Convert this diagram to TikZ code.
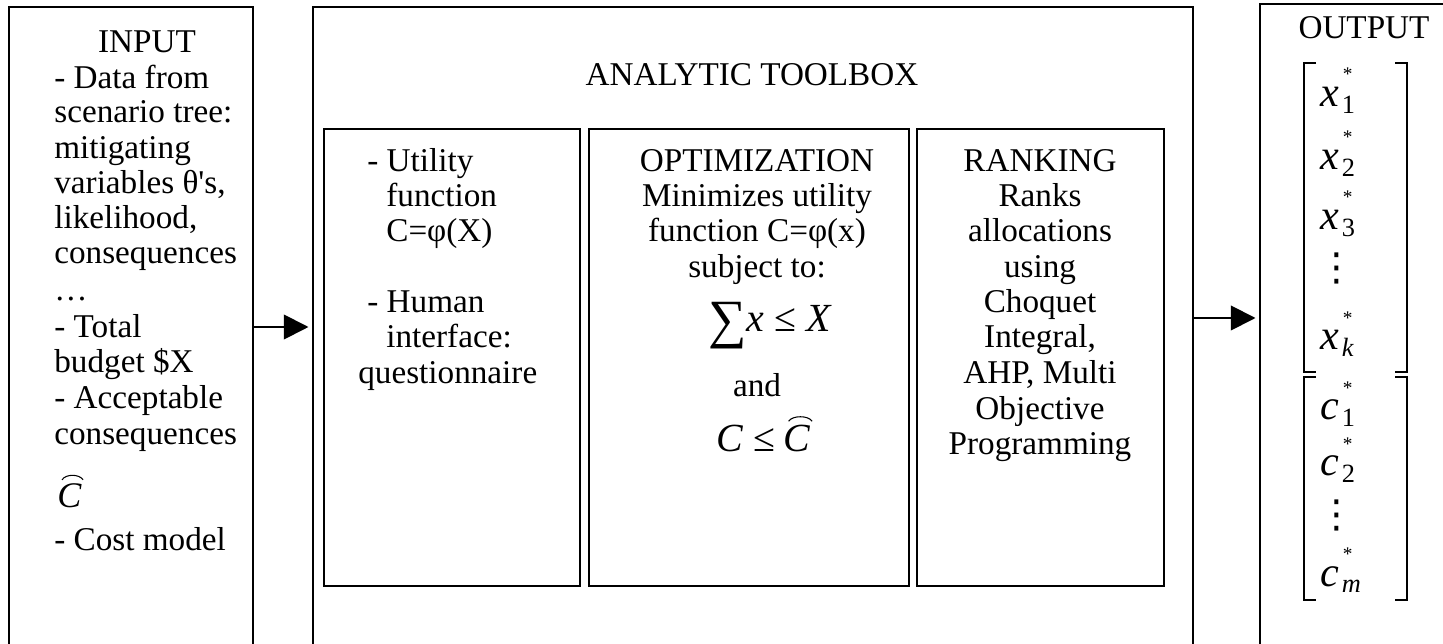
\documentclass[tikz,border=0pt]{standalone}
\usepackage{fontspec}
\setmainfont{Liberation Serif}[Ligatures=TeXOff]
\newfontfamily\dotsfont{DejaVu Sans}
\usepackage{graphicx}
\usetikzlibrary{arrows.meta,calc}

% font sizes (1 unit of the picture = 0.02cm)
\newcommand\bodyfont{\fontsize{18.9pt}{20.1pt}\selectfont}
\newcommand\eqfont{\fontsize{22.7pt}{24pt}\selectfont}
\newcommand\hatCfont{\fontsize{20.5pt}{22pt}\selectfont}
\newcommand\vecfont{\fontsize{24pt}{26pt}\selectfont}
\newcommand\starfont{\fontsize{11pt}{11pt}\selectfont}
\newcommand\subfont{\fontsize{15pt}{16pt}\selectfont}

\tikzset{
  outerbox/.style={draw, line width=1.3pt, inner sep=0pt, anchor=north west, minimum height=13.9cm},
  innerbox/.style={draw, line width=1.1pt, inner sep=0pt, anchor=north west, minimum height=9.14cm},
  txt/.style={font=\bodyfont, inner sep=0pt},
  eq/.style={font=\eqfont, inner sep=0pt},
  vec/.style={font=\vecfont, inner sep=0pt, anchor=base west},
  starlbl/.style={font=\starfont, inner sep=0pt, anchor=north west},
  sublbl/.style={font=\subfont, inner sep=0pt, anchor=base west},
  vdot/.style={font=\dotsfont\fontsize{22pt}{24pt}\selectfont, inner sep=0pt},
  brk/.style={line width=0.8pt},
  hatarc/.style={line width=0.6pt},
  arr/.style={line width=1.1pt, -{Triangle[length=14pt,width=14pt]}, shorten >=2pt},
}

\begin{document}
\begin{tikzpicture}[x=0.02cm,y=-0.02cm]
\useasboundingbox (0,0) rectangle (1443,644);
\clip (0,0) rectangle (1443,644);

% ---- frames
\node[outerbox, minimum width=4.88cm] (inbox) at (8,6) {};
\node[outerbox, minimum width=17.6cm] (tbox) at (312,6) {};
\node[outerbox, minimum width=4.6cm] (outbox) at (1259,3) {};
\node[innerbox, minimum width=5.12cm] (ubox) at (323,128) {};
\node[innerbox, minimum width=6.4cm] (obox) at (588,128) {};
\node[innerbox, minimum width=4.94cm] (rbox) at (916,128) {};

% ---- input column
\node[txt, anchor=base] (inhead) at (147,53) {INPUT};
\foreach \yy/\words [count=\i] in {89/{- Data from},123/{scenario tree:},159/{mitigating},194/{variables θ's,},229/{likelihood,},264/{consequences},301/{…},338/{- Total},373/{budget \$X},409/{- Acceptable},445/{consequences},551/{- Cost model}}
  \node[txt, anchor=base west] (in\i) at (54,\yy) {\words};
\node[inner sep=0pt, font=\hatCfont, anchor=base west] (inC) at (57,508) {\textit{C}};
\draw[hatarc] ($(inC.north west)+(5,-4)$) .. controls ($(inC.north west)+(9,-10)$) and ($(inC.north east)+(-3,-10)$) .. ($(inC.north east)+(1,-4)$);

% ---- toolbox title
\node[txt, anchor=base] (thead) at (752,86) {ANALYTIC TOOLBOX};

% ---- utility box
\foreach \xx/\yy/\words [count=\i] in {367/172/{- Utility},386/207/{function},386/242/{C=φ(X)},367/313/{- Human},386/348/{interface:},358/384/{questionnaire}}
  \node[txt, anchor=base west] (u\i) at (\xx,\yy) {\words};

% ---- optimization box
\foreach \yy/\words [count=\i] in {172/{OPTIMIZATION},207/{Minimizes utility},242/{function C=φ(x)},278/{subject to:},397/{and}}
  \node[txt, anchor=base] (o\i) at (757,\yy) {\words};
\node[eq, anchor=base] (osum) at (770,332) {\raisebox{-0.14em}{\scalebox{1.35}{∑}}\textit{x} ≤ \textit{X}};
\node[eq, anchor=base west] (oC1) at (716,452) {\textit{C} ≤};
\node[eq, anchor=base west] (oC2) at ($(oC1.base east)+(8,0)$) {\textit{C}};
\draw[hatarc] ($(oC2.north west)+(5,-4)$) .. controls ($(oC2.north west)+(9,-10)$) and ($(oC2.north east)+(-3,-10)$) .. ($(oC2.north east)+(1,-4)$);

% ---- ranking box
\foreach \yy/\words [count=\i] in {172/{RANKING},207/{Ranks},242/{allocations},278/{using},313/{Choquet},348/{Integral,},384/{AHP, Multi},420/{Objective},455/{Programming}}
  \node[txt, anchor=base] (r\i) at (1040,\yy) {\words};

% ---- output column: optimal allocations and consequences
\node[txt, anchor=base] (outhead) at (1364,39) {OUTPUT};
\foreach \nm/\lt/\sb/\yy in {x1/x/1/107, x2/x/2/170, x3/x/3/230, xk/x/{\textit{k}}/350, c1/c/1/420, c2/c/2/476, cm/c/{\textit{m}}/586} {
  \node[vec] (\nm) at (1320,\yy) {\textit{\lt}};
  \node[starlbl] (\nm s) at ($(\nm.base east)+(3,-39)$) {*};
  \node[sublbl] (\nm b) at ($(\nm.base east)+(2,7)$) {\sb};
}
\node[vdot] (xd) at (1337,268) {⋮};
\node[vdot] (cd) at (1337,515) {⋮};
% brackets
\draw[brk] (1316,63) -| (1304,372) -- (1316,372);
\draw[brk] (1395,63) -| (1407,372) -- (1395,372);
\draw[brk] (1316,377) -| (1304,600) -- (1316,600);
\draw[brk] (1395,377) -| (1407,600) -- (1395,600);

% ---- flow arrows
\coordinate (a1) at (0,327);
\coordinate (a2) at (0,318);
\draw[arr] (inbox.east |- a1) -- (tbox.west |- a1);
\draw[arr] (tbox.east |- a2) -- (outbox.west |- a2);
\end{tikzpicture}
\end{document}
